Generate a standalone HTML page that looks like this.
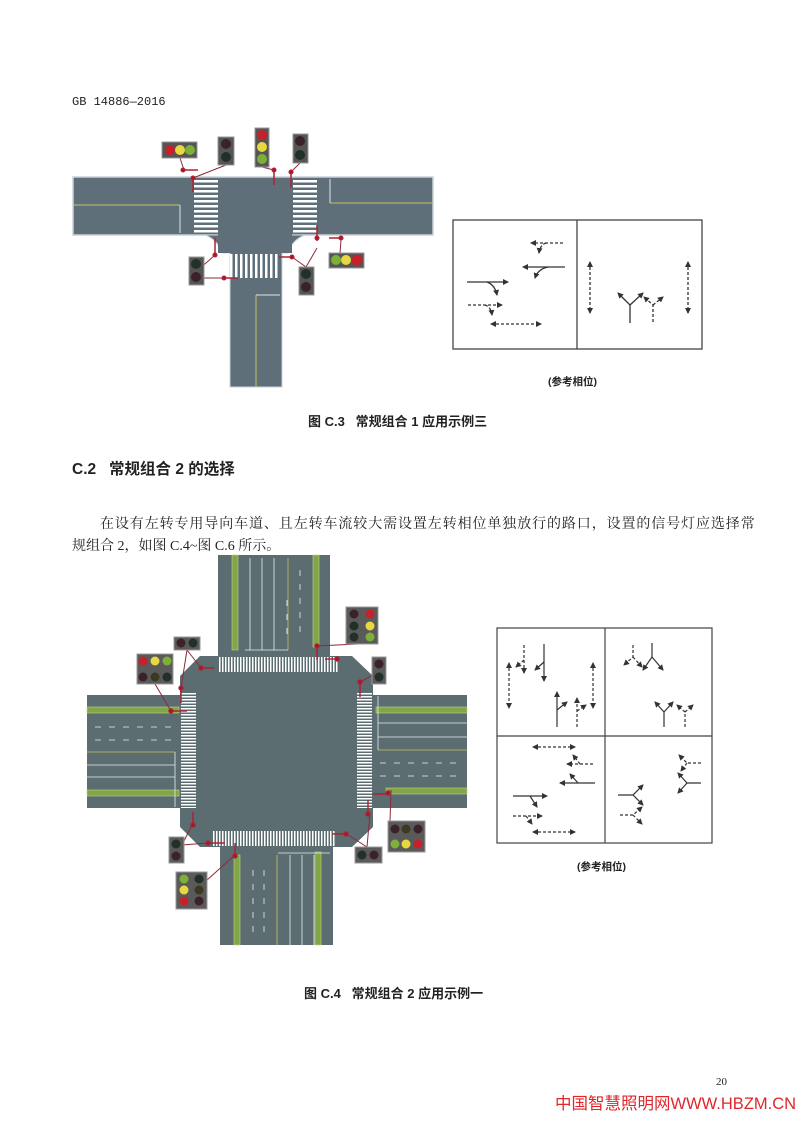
<!DOCTYPE html>
<html><head><meta charset="utf-8"><style>
html,body{margin:0;padding:0;background:#fff;}
body{width:800px;height:1130px;position:relative;overflow:hidden;font-family:"Liberation Sans","Noto Sans CJK SC",sans-serif;}
.t{position:absolute;white-space:nowrap;color:#222;}
svg{position:absolute;left:0;top:0;}
</style></head><body>
<svg width="800" height="1130" viewBox="0 0 800 1130">
<defs>
<marker id="a" markerWidth="6" markerHeight="6" refX="5" refY="3" orient="auto" markerUnits="userSpaceOnUse"><path d="M0,0 L6,3 L0,6 z" fill="#333"/></marker>
<marker id="b" markerWidth="6" markerHeight="6" refX="1" refY="3" orient="auto" markerUnits="userSpaceOnUse"><path d="M6,0 L0,3 L6,6 z" fill="#333"/></marker>
<pattern id="zh" width="1" height="5" patternUnits="userSpaceOnUse"><rect width="1" height="2.5" fill="#fff"/></pattern>
<pattern id="zv" width="5" height="1" patternUnits="userSpaceOnUse"><rect width="2.5" height="1" fill="#fff"/></pattern>
<pattern id="zh2" width="1" height="3" patternUnits="userSpaceOnUse"><rect width="1" height="1.5" fill="#fff"/></pattern>
<pattern id="zv2" width="3" height="1" patternUnits="userSpaceOnUse"><rect width="1.5" height="1" fill="#fff"/></pattern>
</defs>

<!-- TOP DIAGRAM -->
<g>
<rect x="73" y="177" width="360" height="58" fill="#5e6f79" stroke="#c9d2d8" stroke-width="1.5"/>
<path d="M205,235 Q218,240 222,253 L230,253 L230,387 L282,387 L282,253 L288,253 Q292,240 305,235 z" fill="#5e6f79" stroke="#c9d2d8" stroke-width="1"/>
<rect x="218" y="178" width="74" height="75" fill="#5e6f79"/>
<line x1="73" y1="205" x2="180" y2="205" stroke="#c8c060" stroke-width="1"/>
<line x1="180" y1="205" x2="180" y2="233" stroke="#dfe6ea" stroke-width="1"/>
<line x1="330" y1="203" x2="433" y2="203" stroke="#c8c060" stroke-width="1"/>
<line x1="330" y1="179" x2="330" y2="203" stroke="#dfe6ea" stroke-width="1"/>
<line x1="256" y1="295" x2="256" y2="387" stroke="#c8c060" stroke-width="1"/>
<line x1="256" y1="295" x2="280" y2="295" stroke="#dfe6ea" stroke-width="1"/>
<rect x="194" y="180" width="24" height="53" fill="url(#zh)"/>
<rect x="293" y="180" width="24" height="53" fill="url(#zh)"/>
<rect x="225" y="254" width="55" height="24" fill="url(#zv)"/>
<g stroke="#8b2a3a" stroke-width="1" fill="none">
<line x1="180" y1="158" x2="184" y2="170"/><line x1="226" y1="165" x2="193" y2="178"/>
<line x1="262" y1="167" x2="274" y2="170"/><line x1="300" y1="163" x2="291" y2="172"/>
<line x1="340" y1="253" x2="341" y2="240"/><line x1="197" y1="271" x2="215" y2="255"/><line x1="204" y1="278" x2="224" y2="278"/>
<line x1="306" y1="267" x2="317" y2="248"/><line x1="306" y1="267" x2="292" y2="257"/>
</g>
<g stroke="#b02030" stroke-width="1.5" fill="#a01828">
<line x1="182" y1="170" x2="198" y2="170"/><line x1="193" y1="178" x2="193" y2="192"/>
<line x1="274" y1="170" x2="274" y2="185"/><line x1="291" y1="172" x2="291" y2="188"/>
<line x1="317" y1="225" x2="317" y2="241"/><line x1="329" y1="238" x2="342" y2="238"/>
<line x1="215" y1="238" x2="215" y2="256"/><line x1="223" y1="278" x2="238" y2="278"/>
<line x1="279" y1="257" x2="293" y2="257"/>
<circle cx="183" cy="170" r="1.8"/><circle cx="193" cy="178" r="1.8"/><circle cx="274" cy="170" r="1.8"/><circle cx="291" cy="172" r="1.8"/>
<circle cx="317" cy="238" r="1.8"/><circle cx="341" cy="238" r="1.8"/><circle cx="215" cy="255" r="1.8"/><circle cx="224" cy="278" r="1.8"/><circle cx="292" cy="257" r="1.8"/>
</g>
<g>
<rect x="162" y="142" width="35" height="16" fill="#555" stroke="#999"/><circle cx="170" cy="150" r="5" fill="#c8202a"/><circle cx="180" cy="150" r="5" fill="#e8d840"/><circle cx="190" cy="150" r="5" fill="#7cb03a"/>
<rect x="218" y="137" width="16" height="28" fill="#555" stroke="#999"/><circle cx="226" cy="144" r="5" fill="#3a2228"/><circle cx="226" cy="157" r="5" fill="#223028"/>
<rect x="255" y="128" width="14" height="39" fill="#555" stroke="#999"/><circle cx="262" cy="135" r="5" fill="#c8202a"/><circle cx="262" cy="147" r="5" fill="#e8d840"/><circle cx="262" cy="159" r="5" fill="#7cb03a"/>
<rect x="293" y="134" width="15" height="29" fill="#555" stroke="#999"/><circle cx="300" cy="141" r="5" fill="#3a2228"/><circle cx="300" cy="155" r="5" fill="#223028"/>
<rect x="329" y="253" width="35" height="15" fill="#555" stroke="#999"/><circle cx="336" cy="260" r="5" fill="#7cb03a"/><circle cx="346" cy="260" r="5" fill="#e8d840"/><circle cx="357" cy="260" r="5.5" fill="#c8202a"/>
<rect x="189" y="257" width="15" height="28" fill="#555" stroke="#999"/><circle cx="196" cy="264" r="5" fill="#223028"/><circle cx="196" cy="277" r="5" fill="#3a2228"/>
<rect x="299" y="267" width="15" height="28" fill="#555" stroke="#999"/><circle cx="306" cy="274" r="5" fill="#223028"/><circle cx="306" cy="287" r="5" fill="#3a2228"/>
</g>
</g>

<!-- PHASE BOX 1 -->
<g fill="none" stroke="#333" stroke-width="1.3">
<rect x="453" y="220" width="249" height="129" stroke="#444"/>
<line x1="577" y1="220" x2="577" y2="349" stroke="#444"/>
<g stroke-dasharray="3,2">
<line x1="563" y1="243" x2="531" y2="243" marker-end="url(#a)"/><path d="M546,243 Q540,245 539,253" marker-end="url(#a)"/>
<line x1="468" y1="305" x2="502" y2="305" marker-end="url(#a)"/><path d="M485,305 Q491,307 492,315" marker-end="url(#a)"/>
<line x1="491" y1="324" x2="541" y2="324" marker-end="url(#a)" marker-start="url(#b)"/>
<line x1="590" y1="262" x2="590" y2="313" marker-end="url(#a)" marker-start="url(#b)"/>
<line x1="688" y1="262" x2="688" y2="313" marker-end="url(#a)" marker-start="url(#b)"/>
<path d="M653,322 L653,305 L644,297" marker-end="url(#a)"/><path d="M653,305 L663,297" marker-end="url(#a)"/>
</g>
<line x1="565" y1="267" x2="523" y2="267" marker-end="url(#a)"/><path d="M548,267 Q538,269 535,278" marker-end="url(#a)"/>
<line x1="467" y1="282" x2="508" y2="282" marker-end="url(#a)"/><path d="M487,282 Q495,285 497,295" marker-end="url(#a)"/>
<path d="M630,323 L630,305 L618,293" marker-end="url(#a)"/><path d="M630,305 L643,293" marker-end="url(#a)"/>
</g>

<!-- BOTTOM DIAGRAM -->
<g>
<rect x="218" y="555" width="112" height="110" fill="#5b6d71"/>
<rect x="87" y="695" width="105" height="113" fill="#5b6d71"/>
<rect x="360" y="695" width="107" height="113" fill="#5b6d71"/>
<rect x="220" y="838" width="113" height="107" fill="#5b6d71"/>
<polygon points="200,656 352,656 373,676 373,827 352,847 200,847 180,827 180,676" fill="#5b6d71"/>
<rect x="232" y="555" width="6" height="95" fill="#7fa648" stroke="#c8d080" stroke-width="0.6"/>
<rect x="313" y="555" width="6" height="92" fill="#7fa648" stroke="#c8d080" stroke-width="0.6"/>
<rect x="234" y="855" width="6" height="90" fill="#7fa648" stroke="#c8d080" stroke-width="0.6"/>
<rect x="315" y="852" width="6" height="93" fill="#7fa648" stroke="#c8d080" stroke-width="0.6"/>
<rect x="87" y="707" width="92" height="6" fill="#7fa648" stroke="#c8d080" stroke-width="0.6"/>
<rect x="87" y="790" width="92" height="6" fill="#7fa648" stroke="#c8d080" stroke-width="0.6"/>
<rect x="376" y="707" width="91" height="6" fill="#7fa648" stroke="#c8d080" stroke-width="0.6"/>
<rect x="386" y="788" width="81" height="6" fill="#7fa648" stroke="#c8d080" stroke-width="0.6"/>
<g stroke="#e8eef0" stroke-width="0.8">
<line x1="250" y1="558" x2="250" y2="650"/><line x1="262" y1="558" x2="262" y2="650"/><line x1="274" y1="558" x2="274" y2="650"/>
<line x1="288" y1="558" x2="288" y2="650" stroke="#c8c060"/>
<line x1="245" y1="650" x2="288" y2="650"/>
<line x1="277" y1="855" x2="277" y2="945" stroke="#c8c060"/>
<line x1="278" y1="853" x2="330" y2="853"/>
<line x1="290" y1="855" x2="290" y2="945"/><line x1="302" y1="855" x2="302" y2="945"/><line x1="314" y1="855" x2="314" y2="945"/>
<line x1="87" y1="752" x2="175" y2="752" stroke="#c8c060"/>
<line x1="175" y1="752" x2="175" y2="807"/>
<line x1="87" y1="765" x2="175" y2="765"/><line x1="87" y1="777" x2="175" y2="777"/>
<line x1="378" y1="750" x2="467" y2="750" stroke="#c8c060"/>
<line x1="378" y1="696" x2="378" y2="750"/>
<line x1="378" y1="723" x2="467" y2="723"/><line x1="378" y1="737" x2="467" y2="737"/>
</g>
<g stroke="#e8eef0" stroke-width="0.8" stroke-dasharray="6,8">
<line x1="287" y1="600" x2="287" y2="640" stroke="#fff"/><line x1="300" y1="570" x2="300" y2="640"/>
<line x1="253" y1="870" x2="253" y2="940"/><line x1="264" y1="870" x2="264" y2="940"/>
<line x1="95" y1="727" x2="175" y2="727"/><line x1="95" y1="740" x2="175" y2="740"/>
<line x1="380" y1="763" x2="460" y2="763"/><line x1="380" y1="776" x2="460" y2="776"/>
</g>
<rect x="218" y="657" width="120" height="15" fill="url(#zv2)"/>
<rect x="213" y="831" width="122" height="15" fill="url(#zv2)"/>
<rect x="181" y="693" width="15" height="115" fill="url(#zh2)"/>
<rect x="357" y="693" width="15" height="115" fill="url(#zh2)"/>
<g stroke="#8b2a3a" stroke-width="1" fill="none">
<line x1="358" y1="644" x2="316" y2="646"/><line x1="386" y1="668" x2="360" y2="682"/>
<line x1="187" y1="650" x2="201" y2="668"/><line x1="187" y1="650" x2="181" y2="688"/>
<line x1="155" y1="684" x2="171" y2="711"/><line x1="390" y1="821" x2="391" y2="790"/>
<line x1="182" y1="845" x2="193" y2="823"/><line x1="182" y1="845" x2="208" y2="843"/>
<line x1="367" y1="847" x2="345" y2="833"/><line x1="367" y1="847" x2="370" y2="813"/>
<line x1="207" y1="880" x2="235" y2="855"/>
</g>
<g stroke="#b02030" stroke-width="1.4" fill="#a01828">
<line x1="317" y1="646" x2="317" y2="660"/><line x1="325" y1="659" x2="338" y2="659"/>
<line x1="201" y1="668" x2="214" y2="668"/><line x1="181" y1="688" x2="181" y2="703"/><line x1="171" y1="711" x2="187" y2="711"/>
<line x1="360" y1="682" x2="360" y2="697"/><line x1="373" y1="794" x2="387" y2="794"/><line x1="368" y1="800" x2="368" y2="815"/>
<line x1="193" y1="812" x2="193" y2="826"/><line x1="208" y1="843" x2="225" y2="843"/><line x1="235" y1="843" x2="235" y2="857"/>
<line x1="332" y1="834" x2="346" y2="834"/>
<circle cx="317" cy="646" r="2"/><circle cx="337" cy="659" r="2"/><circle cx="201" cy="668" r="2"/><circle cx="181" cy="688" r="2"/><circle cx="171" cy="711" r="2"/>
<circle cx="360" cy="682" r="2"/><circle cx="388" cy="793" r="2"/><circle cx="368" cy="814" r="2"/><circle cx="193" cy="825" r="2"/><circle cx="208" cy="843" r="2"/><circle cx="235" cy="856" r="2"/><circle cx="346" cy="834" r="2"/>
</g>
<g stroke="#999">
<rect x="346" y="607" width="32" height="37" fill="#5a5a5a"/>
<rect x="174" y="637" width="26" height="13" fill="#5a5a5a"/>
<rect x="137" y="654" width="36" height="30" fill="#5a5a5a"/>
<rect x="372" y="657" width="14" height="27" fill="#5a5a5a"/>
<rect x="388" y="821" width="37" height="31" fill="#5a5a5a"/>
<rect x="169" y="837" width="15" height="26" fill="#5a5a5a"/>
<rect x="355" y="847" width="27" height="16" fill="#5a5a5a"/>
<rect x="176" y="872" width="31" height="37" fill="#5a5a5a"/>
</g>
<g>
<circle cx="354" cy="614" r="4.5" fill="#3a2228"/><circle cx="370" cy="614" r="4.5" fill="#c8202a"/>
<circle cx="354" cy="626" r="4.5" fill="#223028"/><circle cx="370" cy="626" r="4.5" fill="#e8d840"/>
<circle cx="354" cy="637" r="4.5" fill="#223028"/><circle cx="370" cy="637" r="4.5" fill="#7cb03a"/>
<circle cx="181" cy="643" r="4.5" fill="#3a2228"/><circle cx="193" cy="643" r="4.5" fill="#223028"/>
<circle cx="143" cy="661" r="4.5" fill="#c8202a"/><circle cx="155" cy="661" r="4.5" fill="#e8d840"/><circle cx="167" cy="661" r="4.5" fill="#7cb03a"/>
<circle cx="143" cy="677" r="4.5" fill="#3a2228"/><circle cx="155" cy="677" r="4.5" fill="#3a3a22"/><circle cx="167" cy="677" r="4.5" fill="#223028"/>
<circle cx="379" cy="664" r="4.5" fill="#3a2228"/><circle cx="379" cy="677" r="4.5" fill="#223028"/>
<circle cx="395" cy="829" r="4.5" fill="#3a2228"/><circle cx="406" cy="829" r="4.5" fill="#3a3a22"/><circle cx="418" cy="829" r="4.5" fill="#3a2228"/>
<circle cx="395" cy="844" r="4.5" fill="#7cb03a"/><circle cx="406" cy="844" r="4.5" fill="#e8d840"/><circle cx="418" cy="844" r="4.5" fill="#c8202a"/>
<circle cx="176" cy="844" r="4.5" fill="#223028"/><circle cx="176" cy="856" r="4.5" fill="#3a2228"/>
<circle cx="362" cy="855" r="4.5" fill="#223028"/><circle cx="374" cy="855" r="4.5" fill="#3a2228"/>
<circle cx="184" cy="879" r="4.5" fill="#7cb03a"/><circle cx="199" cy="879" r="4.5" fill="#223028"/>
<circle cx="184" cy="890" r="4.5" fill="#e8d840"/><circle cx="199" cy="890" r="4.5" fill="#3a3a22"/>
<circle cx="184" cy="901" r="4.5" fill="#c8202a"/><circle cx="199" cy="901" r="4.5" fill="#3a2228"/>
</g>
</g>

<!-- PHASE BOX 2 -->
<g fill="none" stroke="#333" stroke-width="1.2">
<rect x="497" y="628" width="215" height="215" stroke="#444"/>
<line x1="605" y1="628" x2="605" y2="843" stroke="#444"/>
<line x1="497" y1="736" x2="712" y2="736" stroke="#444"/>
<g stroke-dasharray="3,2">
<line x1="509" y1="663" x2="509" y2="708" marker-end="url(#a)" marker-start="url(#b)"/>
<line x1="593" y1="663" x2="593" y2="708" marker-end="url(#a)" marker-start="url(#b)"/>
<line x1="524" y1="645" x2="524" y2="673" marker-end="url(#a)"/><path d="M524,660 L516,667" marker-end="url(#a)"/>
<line x1="577" y1="727" x2="577" y2="698" marker-end="url(#a)"/><path d="M577,711 L586,705" marker-end="url(#a)"/>
<path d="M633,645 L633,657 L624,665" marker-end="url(#a)"/><path d="M633,657 L642,667" marker-end="url(#a)"/>
<path d="M685,727 L685,712 L677,705" marker-end="url(#a)"/><path d="M685,712 L693,705" marker-end="url(#a)"/>
<line x1="533" y1="747" x2="575" y2="747" marker-end="url(#a)" marker-start="url(#b)"/>
<line x1="593" y1="764" x2="567" y2="764" marker-end="url(#a)"/><path d="M580,764 L573,755" marker-end="url(#a)"/>
<line x1="513" y1="816" x2="542" y2="816" marker-end="url(#a)"/><path d="M526,816 L532,824" marker-end="url(#a)"/>
<line x1="533" y1="832" x2="575" y2="832" marker-end="url(#a)" marker-start="url(#b)"/>
<path d="M701,763 L687,763 L679,755" marker-end="url(#a)"/><path d="M687,763 L681,771" marker-end="url(#a)"/>
<path d="M620,815 L633,815 L642,807" marker-end="url(#a)"/><path d="M633,815 L642,824" marker-end="url(#a)"/>
</g>
<line x1="544" y1="644" x2="544" y2="681" marker-end="url(#a)"/><path d="M544,662 L535,670" marker-end="url(#a)"/>
<line x1="557" y1="727" x2="557" y2="692" marker-end="url(#a)"/><path d="M557,710 L567,702" marker-end="url(#a)"/>
<path d="M652,643 L652,657 L643,670" marker-end="url(#a)"/><path d="M652,657 L663,670" marker-end="url(#a)"/>
<path d="M664,727 L664,712 L655,702" marker-end="url(#a)"/><path d="M664,712 L673,702" marker-end="url(#a)"/>
<line x1="595" y1="783" x2="560" y2="783" marker-end="url(#a)"/><path d="M578,783 L570,774" marker-end="url(#a)"/>
<line x1="513" y1="796" x2="547" y2="796" marker-end="url(#a)"/><path d="M530,796 L537,807" marker-end="url(#a)"/>
<path d="M701,783 L687,783 L678,773" marker-end="url(#a)"/><path d="M687,783 L678,793" marker-end="url(#a)"/>
<path d="M618,795 L633,795 L643,785" marker-end="url(#a)"/><path d="M633,795 L643,805" marker-end="url(#a)"/>
</g>
</svg>

<div class="t" style="left:72px;top:95px;font-family:'Liberation Mono',monospace;font-size:12px;">GB 14886—2016</div>
<div class="t" style="left:548px;top:374px;font-size:10.5px;font-weight:bold;">(参考相位)</div>
<div class="t" style="left:308px;top:411px;font-size:13px;font-weight:bold;">图 C.3&nbsp;&nbsp;&nbsp;常规组合 1 应用示例三</div>
<div class="t" style="left:72px;top:457px;font-size:15.5px;font-weight:bold;">C.2&nbsp;&nbsp;&nbsp;常规组合 2 的选择</div>
<div class="t" style="left:100px;top:513px;font-family:'Liberation Serif','Noto Serif CJK SC',serif;font-size:14px;letter-spacing:0.9px;">在设有左转专用导向车道、且左转车流较大需设置左转相位单独放行的路口，设置的信号灯应选择常</div>
<div class="t" style="left:72px;top:535px;font-family:'Liberation Serif','Noto Serif CJK SC',serif;font-size:14px;">规组合 2，如图 C.4~图 C.6 所示。</div>
<div class="t" style="left:577px;top:859px;font-size:10.5px;font-weight:bold;">(参考相位)</div>
<div class="t" style="left:304px;top:983px;font-size:13px;font-weight:bold;">图 C.4&nbsp;&nbsp;&nbsp;常规组合 2 应用示例一</div>
<div class="t" style="left:716px;top:1076px;font-family:'Liberation Serif',serif;font-size:11px;">20</div>
<div class="t" style="left:555px;top:1090px;font-size:16.5px;color:#e0262a;">中国智慧照明网WWW.HBZM.CN</div>
</body></html>
